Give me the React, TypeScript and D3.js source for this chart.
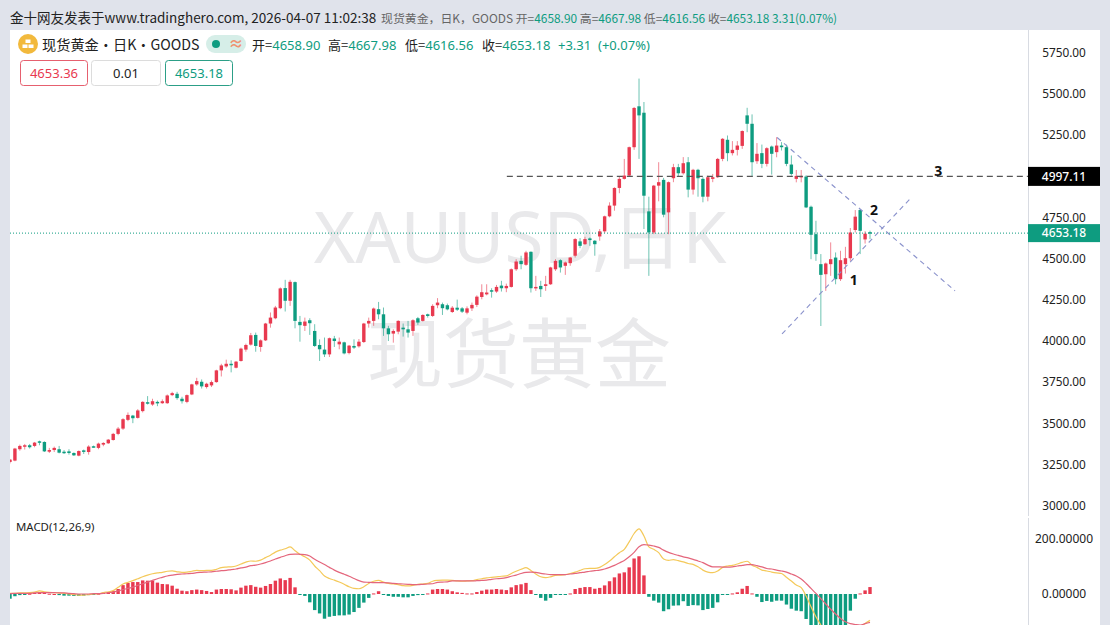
import React from "react";
import * as d3 from "d3";

const opens = [
  3266,3274,3343,3359,3367,3363,3391,3387,3328,3338,
  3343,3328,3330,3320,3304,3336,3326,3361,3351,3371,
  3379,3399,3436,3468,3521,3547,3533,3574,3628,3614,
  3630,3622,3622,3671,3679,3649,3630,3675,3736,3752,
  3720,3730,3750,3821,3845,3861,3837,3878,3947,3977,
  4036,3963,4003,4105,4137,4198,4320,4243,4356,4115,
  4091,4125,4060,3975,3947,3918,4014,3979,3991,3926,
  3969,3967,3993,4105,4121,4192,4161,4076,4044,4056,
  4080,4070,4060,4137,4121,4161,4151,4216,4222,4216,
  4175,4201,4197,4171,4197,4218,4266,4282,4307,4299,
  4335,4319,4327,4434,4485,4461,4540,4319,4333,4333,
  4343,4434,4489,4455,4471,4516,4603,4586,4621,4607,
  4633,4664,4755,4820,4927,4982,5002,5174,5422,5383,
  4785,4657,4941,4976,4779,4986,5053,5016,5083,4917,
  5037,4982,4874,4982,4992,5103,5219,5138,5158,5182,
  5367,5316,5089,5138,5073,5178,5144,5184,5174,5069,
  4982,4992,4996,4813,4647,4465,4404,4465,4505,4374,
  4465,4501,4672,4793,4615,4658.9,
];
const closes = [
  3280,3347,3363,3367,3355,3383,3385,3330,3338,3351,
  3322,3322,3320,3306,3332,3328,3359,3357,3377,3381,
  3401,3436,3468,3525,3551,3531,3578,3630,3622,3634,
  3622,3634,3669,3683,3653,3634,3671,3736,3756,3724,
  3740,3750,3821,3851,3861,3853,3874,3953,3975,4034,
  3969,4003,4105,4141,4202,4318,4243,4358,4121,4095,
  4117,4107,3969,3949,3918,4016,3999,3995,3924,3971,
  3959,3995,4105,4121,4196,4161,4076,4040,4060,4121,
  4070,4050,4125,4111,4157,4151,4212,4232,4198,4191,
  4201,4189,4177,4197,4218,4268,4295,4293,4299,4327,
  4319,4333,4434,4481,4465,4536,4319,4327,4313,4343,
  4445,4485,4445,4475,4505,4617,4576,4617,4611,4586,
  4664,4755,4820,4927,4982,5002,5174,5412,5367,4880,
  4657,4941,4962,4765,4962,5053,5016,5077,4917,5037,
  4986,4874,4992,4992,5103,5225,5138,5158,5184,5272,
  5316,5083,5134,5073,5168,5134,5184,5174,5073,5012,
  5000,5000,4809,4643,4526,4400,4469,4495,4374,4489,
  4501,4657,4753,4667,4649.87,4653.18,
];
const highs = [
  3284,3351,3371,3375,3375,3387,3395,3391,3351,3359,
  3363,3338,3343,3324,3336,3341,3367,3365,3383,3385,
  3405,3442,3478,3531,3566,3551,3586,3634,3665,3649,
  3638,3645,3675,3691,3691,3661,3675,3740,3776,3766,
  3746,3760,3825,3861,3886,3882,3878,3959,3983,4048,
  4050,4009,4109,4172,4212,4324,4370,4370,4360,4151,
  4141,4137,4101,4009,4020,4020,4030,4020,3995,3975,
  4009,4011,4109,4141,4202,4236,4202,4091,4070,4125,
  4105,4121,4131,4145,4161,4165,4222,4259,4232,4226,
  4211,4250,4205,4209,4232,4276,4343,4343,4319,4339,
  4364,4347,4439,4495,4516,4546,4542,4394,4364,4394,
  4449,4495,4495,4481,4509,4623,4623,4631,4627,4611,
  4678,4759,4840,4931,4996,5103,5178,5418,5590,5448,
  4874,4945,5083,4988,4966,5073,5073,5114,5114,5043,
  5043,4992,5002,5012,5109,5229,5245,5211,5211,5276,
  5413,5373,5199,5190,5174,5184,5235,5205,5190,5124,
  5036,5036,5004,4820,4728,4526,4475,4597,4536,4546,
  4570,4684,4793,4799,4665,4667.98,
];
const lows = [
  3257,3270,3334,3341,3347,3355,3367,3326,3320,3326,
  3318,3314,3310,3302,3300,3314,3310,3353,3343,3361,
  3375,3395,3428,3460,3513,3501,3529,3566,3614,3606,
  3604,3618,3618,3665,3643,3620,3622,3671,3728,3711,
  3711,3720,3746,3784,3837,3809,3833,3874,3934,3971,
  3934,3934,3999,4080,4131,4192,4178,4212,4076,3995,
  4060,4036,3963,3878,3902,3902,3963,3949,3918,3918,
  3951,3959,3987,4080,4091,4131,4030,3999,3989,4040,
  4026,4020,4030,4097,4117,4141,4145,4198,4157,4185,
  4169,4181,4169,4161,4181,4205,4252,4276,4262,4291,
  4299,4295,4323,4424,4434,4455,4293,4303,4266,4303,
  4339,4424,4414,4400,4455,4505,4562,4582,4576,4516,
  4607,4653,4749,4789,4895,4978,4996,5158,5103,4678,
  4394,4647,4846,4749,4647,4962,4996,5008,4870,4887,
  4874,4840,4846,4962,4988,5089,5089,5124,5124,5164,
  5265,4996,5073,5047,5057,5008,5113,5154,5059,5002,
  4961,4961,4805,4495,4485,4090,4303,4394,4343,4363,
  4408,4485,4657,4526,4590,4616.56,
];

const macdHist = [
  -17,-8,-4,-1,1,4,6,4,1,0,
  -4,-6,-6,-7,-7,-6,-4,-2,1,5,
  7,11,18,32,40,43,43,49,48,48,
  41,36,35,30,19,12,10,14,16,14,
  11,7,16,18,18,17,13,23,30,32,
  26,23,29,36,48,56,50,58,24,-2,
  -7,-30,-58,-70,-89,-82,-79,-77,-77,-74,
  -65,-50,-31,-14,2,10,-2,-7,-10,-10,
  -12,-12,-7,-4,-1,2,16,18,18,16,
  10,6,4,2,2,7,12,16,16,18,
  16,14,24,32,35,40,14,-2,-14,-24,
  -14,-2,-2,-2,2,18,22,25,25,19,
  22,31,46,60,74,78,96,128,136,67,
  -10,-24,-31,-62,-55,-42,-41,-26,-43,-40,
  -41,-58,-54,-50,-30,-2,-2,2,6,19,
  29,2,-10,-29,-25,-28,-24,-24,-38,-53,
  -60,-62,-90,-120,-126,-132,-132,-134,-130,-130,
  -126,-60,-17,2,13,25,
];
const macdDif = [
  2,2,4,4,5,7,11,8,6,5,
  4,2,0,-2,-4,-4,-2,0,1,5,
  8,12,24,36,42,48,55,62,68,73,
  76,78,82,83,80,78,79,82,85,84,
  85,85,89,95,97,98,101,108,115,119,
  118,122,131,140,151,158,163,170,156,143,
  134,122,101,84,65,56,50,43,35,26,
  20,19,26,38,46,49,43,38,36,34,
  30,29,31,35,36,38,46,49,50,50,
  49,47,46,47,48,52,55,58,60,62,
  64,65,74,82,89,95,85,72,62,59,
  62,67,68,70,74,79,85,91,92,92,
  96,106,119,134,149,161,188,218,235,209,
  170,161,149,126,121,124,120,116,110,107,
  98,86,79,77,83,96,101,103,108,114,
  118,104,96,86,83,79,76,74,60,47,
  32,23,-7,-46,-82,-112,-144,-162,-170,-170,
  -166,-154,-138,-120,-106,-95,
];
const macdDea = [
  1,2,2,2,2,4,5,5,5,5,
  4,4,2,1,0,0,0,1,1,2,
  5,7,11,16,20,25,31,37,43,49,
  55,60,65,68,71,72,73,74,77,78,
  79,80,82,84,85,88,90,94,97,102,
  104,108,113,119,126,132,138,143,144,143,
  142,137,125,115,106,96,86,78,71,64,
  56,48,43,42,41,41,41,40,38,37,
  36,35,34,34,35,36,37,42,43,44,
  47,47,47,47,47,48,49,50,53,55,
  56,59,64,68,74,78,79,78,74,72,
  70,70,70,70,72,74,77,79,82,84,
  86,90,96,103,112,121,134,150,170,178,
  176,173,168,158,150,144,139,134,130,125,
  119,113,104,98,98,97,97,98,101,103,
  106,106,102,98,92,90,86,83,79,72,
  65,54,38,20,2,-17,-36,-55,-72,-88,
  -100,-107,-110,-112,-107,-102,
];

const priceTicks = [5750, 5500, 5250, 4750, 4500, 4250, 4000, 3750, 3500, 3250, 3000];
const macdTicks = [200, 0];
const lastPrice = 4653.18;
const markPrice = 4997.11;

// drawn trend lines, [bar index, price]
const riseLine = [[157.1, 4042], [183.2, 4862]];
const fallLine = [[156.1, 5233], [192.3, 4303]];
const notes = [
  { label: "1", i: 171.7, p: 4338 },
  { label: "2", i: 175.8, p: 4760 },
  { label: "3", i: 188.9, p: 5000 },
];

const RED = "#e8394f";
const GREEN = "#0e9c80";
const PANEL = "#e0e3eb";
const CJK = "'Noto Sans CJK SC', 'Noto Sans', sans-serif";
const NUM = "'Noto Sans', 'Noto Sans CJK SC', sans-serif";

const x = d3.scaleLinear().domain([0, 175]).range([10, 870]);
const y = d3.scaleLinear().domain([3000, 5750]).range([505.8, 52.2]);
const yMacd = d3.scaleLinear().domain([0, 200]).range([594, 538.5]);

const difLine = d3.line<number>().x((_, i) => x(i)).y((d) => yMacd(d)).curve(d3.curveMonotoneX);

function Legend() {
  const parts = [
    { t: "开=", v: "4658.90", at: 252 },
    { t: "高=", v: "4667.98", at: 328 },
    { t: "低=", v: "4616.56", at: 405 },
    { t: "收=", v: "4653.18", at: 482 },
  ];
  const boxes = [
    { t: "4653.36", at: 20, w: 67, c: RED, s: "#e6606f" },
    { t: "0.01", at: 91, w: 69, c: "#222", s: "#dcdcdc" },
    { t: "4653.18", at: 165, w: 67, c: GREEN, s: "#2c9f87" },
  ];
  return (
    <g>
      <circle cx={28} cy={44} r={10} fill="#f2b93c" />
      <rect x={25.5} y={39.5} width={5} height={3.5} fill="#fff" />
      <rect x={22.5} y={44.5} width={5} height={3.5} fill="#fff" />
      <rect x={28.5} y={44.5} width={5} height={3.5} fill="#fff" />
      <text x={42} y={49.5} fontSize={14.2} fontFamily={CJK} fill="#222">
        现货黄金・日K・GOODS
      </text>
      <rect x={206} y={35} width={40} height={18} rx={9} fill="#d6eee8" />
      <circle cx={216} cy={44} r={4} fill={GREEN} />
      <text x={236} y={49} fontSize={15} fontWeight={700} textAnchor="middle" fontFamily={NUM} fill="#ef9272">≈</text>
      {parts.map((d) => (
        <text key={d.t} x={d.at} y={49.5} fontSize={13} fontFamily={CJK} fill="#222">
          {d.t}
          <tspan fill={GREEN} fontFamily={NUM}>{d.v}</tspan>
        </text>
      ))}
      <text x={558} y={49.5} fontSize={13} fontFamily={NUM} fill={GREEN}>+3.31</text>
      <text x={598} y={49.5} fontSize={13} fontFamily={NUM} fill={GREEN}>(+0.07%)</text>
      {boxes.map((d) => (
        <g key={d.at}>
          <rect x={d.at + 0.5} y={60.5} width={d.w} height={25} rx={3} fill="#fff" stroke={d.s} />
          <text x={d.at + d.w / 2 + 0.5} y={78} fontSize={13} textAnchor="middle" fontFamily={NUM} fill={d.c}>
            {d.t}
          </text>
        </g>
      ))}
    </g>
  );
}

export default function App() {
  return (
    <svg
      width={1110}
      height={625}
      style={{ position: "fixed", left: 0, top: 0, display: "block" }}
    >
      <defs>
        <clipPath id="price-clip">
          <rect x={10} y={30} width={1018} height={486} />
        </clipPath>
        <clipPath id="macd-clip">
          <rect x={10} y={517} width={1018} height={108} />
        </clipPath>
      </defs>
      <rect width={1110} height={625} fill={PANEL} />
      <rect x={10} y={30} width={1090} height={595} fill="#fff" />

      {/* header strip */}
      <text x={10} y={23} fontSize={13.5} fontFamily={CJK} fill="#222">
        金十网友发表于www.tradinghero.com, 2026-04-07 11:02:38
      </text>
      <text x={381} y={23} fontSize={11.9} fontFamily={CJK} fill="#666">
        现货黄金，日K，GOODS 开=<tspan fill={GREEN}>4658.90</tspan> 高=<tspan fill={GREEN}>4667.98</tspan> 低=
        <tspan fill={GREEN}>4616.56</tspan> 收=<tspan fill={GREEN}>4653.18 3.31(0.07%)</tspan>
      </text>

      {/* watermark */}
      <text x={520} y={263} fontSize={71} textAnchor="middle" fontFamily={NUM} fill="#e9e9eb">
        XAUUSD,日K
      </text>
      <text x={519} y={382} fontSize={76} textAnchor="middle" fontFamily={CJK} fill="#e9e9eb">
        现货黄金
      </text>

      <g clipPath="url(#price-clip)">
        {opens.map((o, i) => {
          const c = closes[i];
          const col = c >= o ? RED : GREEN;
          const top = y(Math.max(o, c));
          const h = Math.max(1.5, y(Math.min(o, c)) - top);
          return (
            <g key={i}>
              <line x1={x(i)} x2={x(i)} y1={y(highs[i])} y2={y(lows[i])} stroke={col} strokeOpacity={0.6} />
              <rect x={x(i) - 1.7} y={top} width={3.4} height={h} fill={col} />
            </g>
          );
        })}

        <line x1={x(101.1)} x2={1028} y1={y(markPrice)} y2={y(markPrice)} stroke="#555" strokeWidth={1.3} strokeDasharray="6 4" />
        <line x1={10} x2={1028} y1={y(lastPrice)} y2={y(lastPrice)} stroke={GREEN} strokeDasharray="1 2" />
        {[riseLine, fallLine].map((l, k) => (
          <line
            key={k}
            x1={x(l[0][0])}
            y1={y(l[0][1])}
            x2={x(l[1][0])}
            y2={y(l[1][1])}
            stroke="#8a92cc"
            strokeWidth={1.1}
            strokeDasharray="5 4"
          />
        ))}
        {notes.map((n) => (
          <text key={n.label} x={x(n.i)} y={y(n.p)} fontSize={14} fontWeight={700} textAnchor="middle" fontFamily={NUM} fill="#111">
            {n.label}
          </text>
        ))}
      </g>

      <Legend />

      {/* MACD pane */}
      <text x={16} y={531} fontSize={11.4} fontFamily={NUM} fill="#222">MACD(12,26,9)</text>
      <g clipPath="url(#macd-clip)">
        {macdHist.map((v, i) => (
          <rect
            key={i}
            x={x(i) - 1.7}
            y={Math.min(yMacd(v), yMacd(0))}
            width={3.4}
            height={Math.max(1, Math.abs(yMacd(v) - yMacd(0)))}
            fill={v >= 0 ? RED : GREEN}
          />
        ))}
        <path d={difLine(macdDif) ?? ""} fill="none" stroke="#f4c95a" strokeWidth={1.2} />
        <path d={difLine(macdDea) ?? ""} fill="none" stroke="#e4667c" strokeWidth={1.2} />
      </g>

      {/* right axis */}
      <line x1={1028.5} x2={1028.5} y1={30} y2={516} stroke="#d8dbe2" />
      <line x1={1028.5} x2={1028.5} y1={518} y2={625} stroke="#d8dbe2" />
      {priceTicks.map((t) => (
        <text key={t} x={1064} y={y(t) + 4.4} fontSize={11.8} textAnchor="middle" fontFamily={NUM} fill="#222">
          {d3.format(".2f")(t)}
        </text>
      ))}
      {macdTicks.map((t) => (
        <text key={t} x={1064} y={yMacd(t) + 4} fontSize={12} textAnchor="middle" fontFamily={NUM} fill="#222">
          {d3.format(".5f")(t)}
        </text>
      ))}
      <rect x={1028} y={y(markPrice) - 9.5} width={72} height={19} fill="#000" />
      <text x={1064} y={y(markPrice) + 4.3} fontSize={12} fontWeight={500} textAnchor="middle" fontFamily={NUM} fill="#fff">
        {d3.format(".2f")(markPrice)}
      </text>
      <rect x={1028} y={y(lastPrice) - 9} width={72} height={18} fill={GREEN} />
      <text x={1064} y={y(lastPrice) + 4.3} fontSize={12} fontWeight={500} textAnchor="middle" fontFamily={NUM} fill="#fff">
        {d3.format(".2f")(lastPrice)}
      </text>
    </svg>
  );
}
